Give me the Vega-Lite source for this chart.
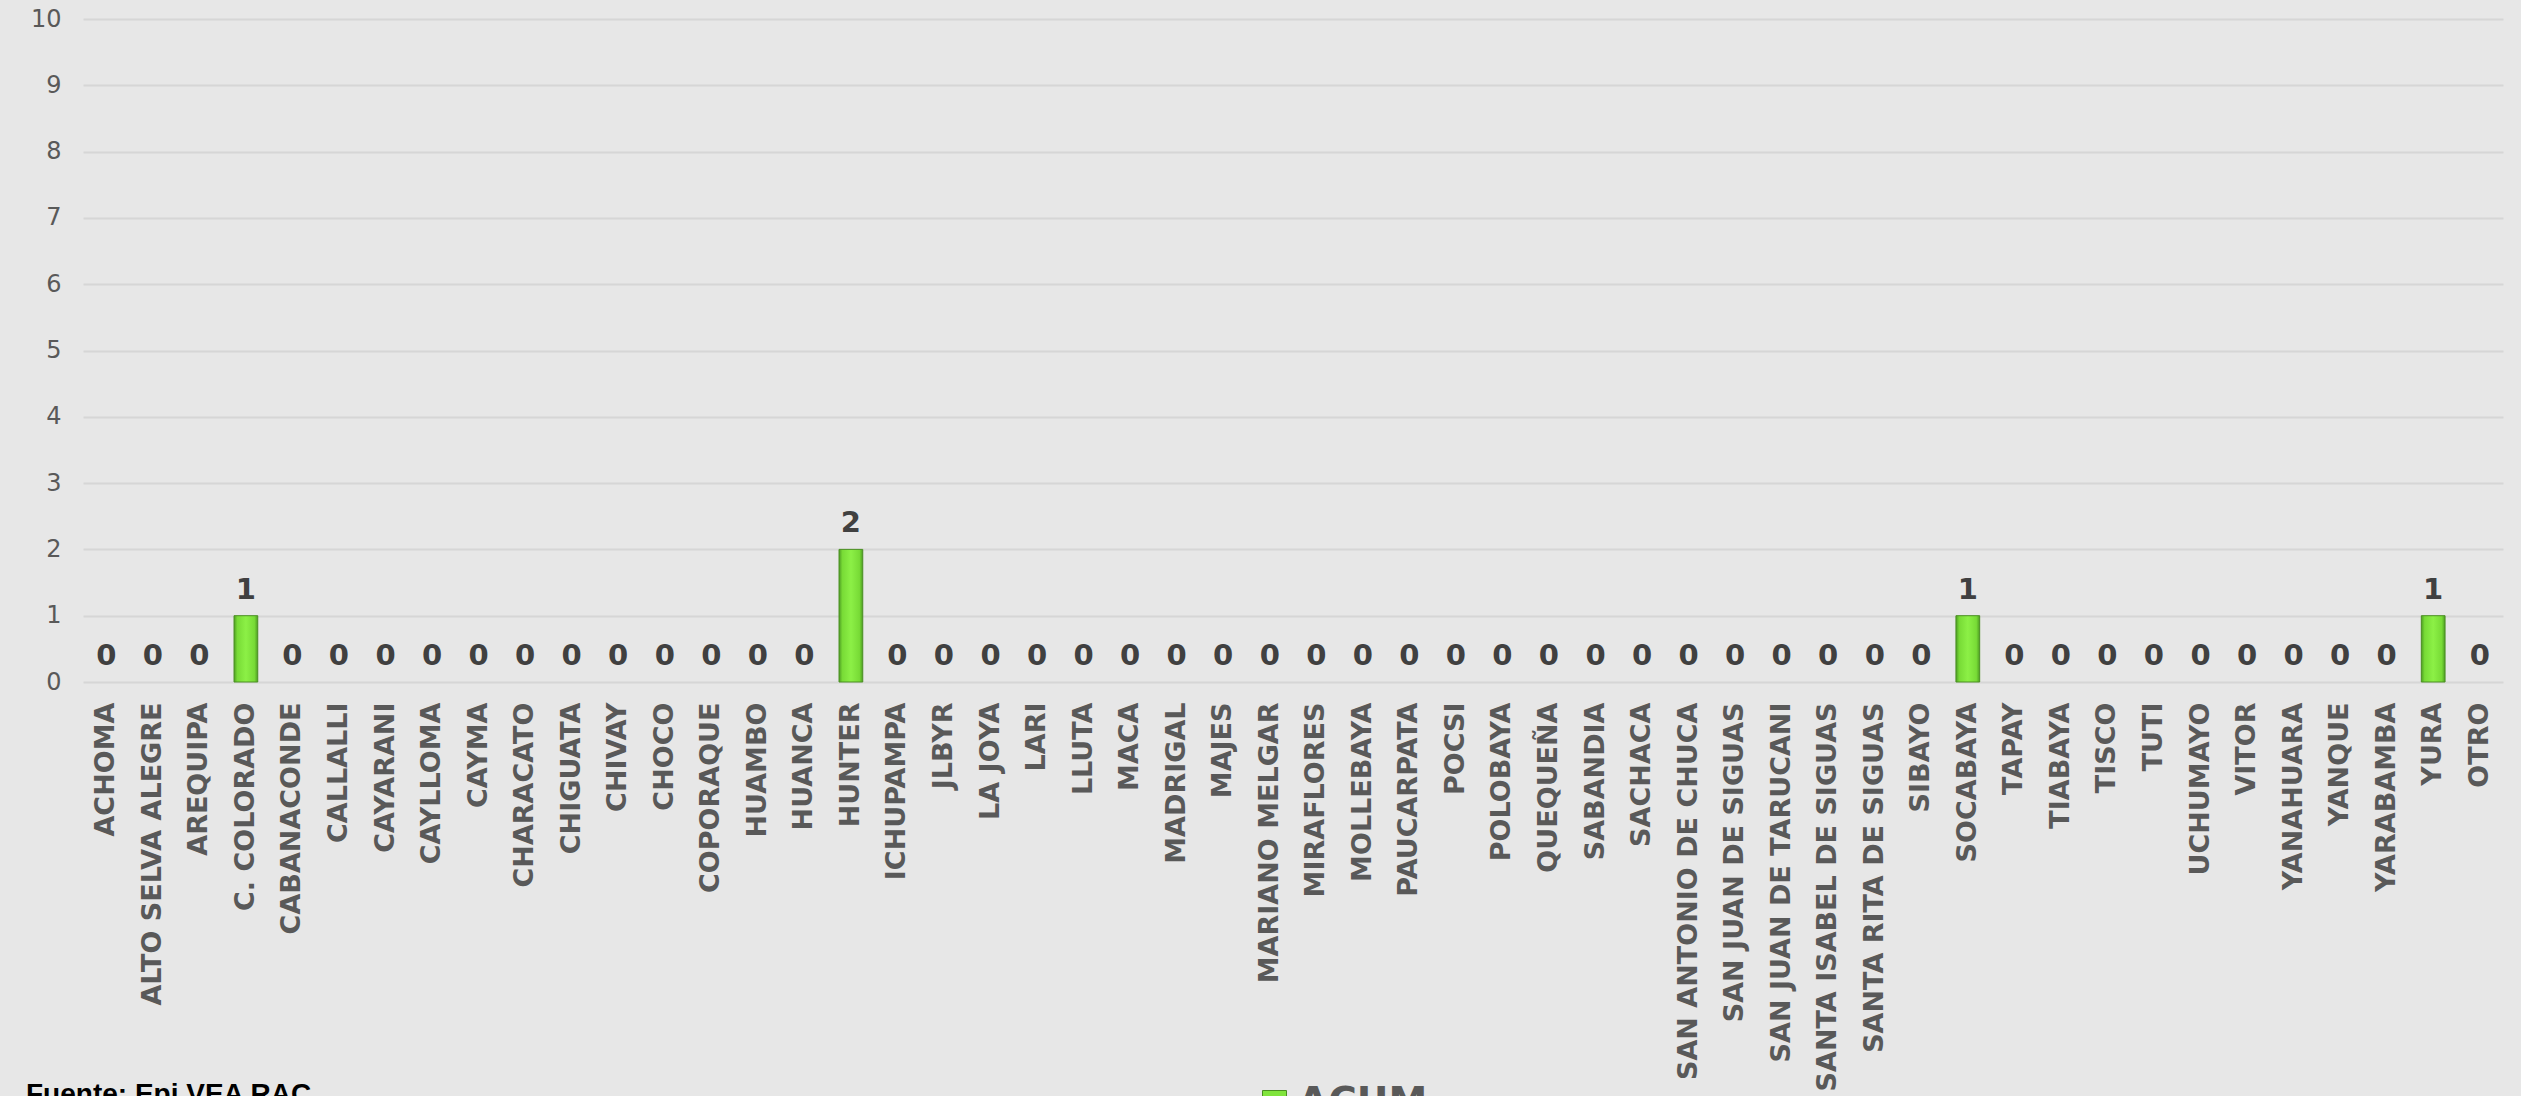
{
  "$schema": "https://vega.github.io/schema/vega-lite/v6.json",
  "width": 2420,
  "height": 663,
  "autosize": {"type": "none"},
  "padding": {"left": 83, "top": 19, "right": 18, "bottom": 414},
  "background": "#E7E7E7",
  "config": {
    "view": {"stroke": null},
    "font": "DejaVu Sans"
  },
  "title": {
    "text": "Fuente: Epi VEA RAC",
    "orient": "bottom",
    "anchor": "start",
    "frame": "group",
    "font": "Liberation Sans",
    "fontSize": 28,
    "fontWeight": "bold",
    "color": "#000000",
    "dx": -57,
    "offset": -42
  },
  "data": {
    "values": [
      {"distrito": "ACHOMA", "casos": 0},
      {"distrito": "ALTO SELVA ALEGRE", "casos": 0},
      {"distrito": "AREQUIPA", "casos": 0},
      {"distrito": "C. COLORADO", "casos": 1},
      {"distrito": "CABANACONDE", "casos": 0},
      {"distrito": "CALLALLI", "casos": 0},
      {"distrito": "CAYARANI", "casos": 0},
      {"distrito": "CAYLLOMA", "casos": 0},
      {"distrito": "CAYMA", "casos": 0},
      {"distrito": "CHARACATO", "casos": 0},
      {"distrito": "CHIGUATA", "casos": 0},
      {"distrito": "CHIVAY", "casos": 0},
      {"distrito": "CHOCO", "casos": 0},
      {"distrito": "COCACHACRA", "casos": null},
      {"distrito": "COPORAQUE", "casos": 0},
      {"distrito": "HUAMBO", "casos": 0},
      {"distrito": "HUANCA", "casos": 0},
      {"distrito": "HUNTER", "casos": 2},
      {"distrito": "ICHUPAMPA", "casos": 0},
      {"distrito": "JLBYR", "casos": 0},
      {"distrito": "LA JOYA", "casos": 0},
      {"distrito": "LARI", "casos": 0},
      {"distrito": "LLUTA", "casos": 0},
      {"distrito": "MACA", "casos": 0},
      {"distrito": "MADRIGAL", "casos": 0},
      {"distrito": "MAJES", "casos": 0},
      {"distrito": "MARIANO MELGAR", "casos": 0},
      {"distrito": "MIRAFLORES", "casos": 0},
      {"distrito": "MOLLEBAYA", "casos": 0},
      {"distrito": "PAUCARPATA", "casos": 0},
      {"distrito": "POCSI", "casos": 0},
      {"distrito": "POLOBAYA", "casos": 0},
      {"distrito": "QUEQUEÑA", "casos": 0},
      {"distrito": "SABANDIA", "casos": 0},
      {"distrito": "SACHACA", "casos": 0},
      {"distrito": "SAN ANTONIO DE CHUCA", "casos": 0},
      {"distrito": "SAN JUAN DE SIGUAS", "casos": 0},
      {"distrito": "SAN JUAN DE TARUCANI", "casos": 0},
      {"distrito": "SANTA ISABEL DE SIGUAS", "casos": 0},
      {"distrito": "SANTA RITA DE SIGUAS", "casos": 0},
      {"distrito": "SIBAYO", "casos": 0},
      {"distrito": "SOCABAYA", "casos": 1},
      {"distrito": "TAPAY", "casos": 0},
      {"distrito": "TIABAYA", "casos": 0},
      {"distrito": "TISCO", "casos": 0},
      {"distrito": "TUTI", "casos": 0},
      {"distrito": "UCHUMAYO", "casos": 0},
      {"distrito": "VITOR", "casos": 0},
      {"distrito": "YANAHUARA", "casos": 0},
      {"distrito": "YANQUE", "casos": 0},
      {"distrito": "YARABAMBA", "casos": 0},
      {"distrito": "YURA", "casos": 1},
      {"distrito": "OTRO", "casos": 0}
    ]
  },
  "encoding": {
    "x": {
      "field": "distrito",
      "type": "nominal",
      "sort": null,
      "scale": {"paddingInner": 0.49, "paddingOuter": 0.245},
      "axis": {
        "title": null,
        "labelAngle": -90,
        "labelFont": "DejaVu Sans",
        "labelFontSize": 27,
        "labelFontWeight": "bold",
        "labelColor": "#595959",
        "labelPadding": 20,
        "labelLimit": 0,
        "labelOverlap": false,
        "domain": false,
        "ticks": false,
        "grid": false
      }
    },
    "y": {
      "field": "casos",
      "type": "quantitative",
      "scale": {"domain": [0, 10], "nice": false},
      "axis": {
        "title": null,
        "values": [0, 1, 2, 3, 4, 5, 6, 7, 8, 9, 10],
        "labelFont": "DejaVu Sans",
        "labelFontSize": 24,
        "labelColor": "#595959",
        "labelPadding": 22,
        "domain": false,
        "ticks": false,
        "grid": true,
        "gridColor": "#D6D6D6",
        "gridWidth": 2
      }
    }
  },
  "layer": [
    {
      "mark": {
        "type": "bar",
        "fill": {
          "gradient": "linear",
          "x1": 0, "x2": 1, "y1": 0, "y2": 0,
          "stops": [
            {"offset": 0, "color": "#4E9E22"},
            {"offset": 0.14, "color": "#78DB36"},
            {"offset": 0.5, "color": "#8CF046"},
            {"offset": 0.86, "color": "#78DB36"},
            {"offset": 1, "color": "#4E9E22"}
          ]
        },
        "stroke": "#4A8F22",
        "strokeWidth": 1
      },
      "encoding": {
        "opacity": {
          "condition": {"test": "datum.casos > 0", "value": 1},
          "value": 0
        }
      }
    },
    {
      "mark": {
        "type": "text",
        "baseline": "alphabetic",
        "dy": -17,
        "font": "DejaVu Sans",
        "fontSize": 29,
        "fontWeight": "bold",
        "color": "#404040"
      },
      "encoding": {
        "text": {"field": "casos", "type": "quantitative"}
      }
    },
    {
      "mark": {"type": "square", "opacity": 0},
      "encoding": {
        "x": null,
        "y": null,
        "color": {
          "datum": "ACUM",
          "type": "nominal",
          "scale": {"range": ["#80E43C"]},
          "legend": {
            "title": null,
            "orient": "none",
            "legendX": 1172,
            "legendY": 1064,
            "padding": 0,
            "symbolType": "square",
            "symbolSize": 576,
            "symbolOpacity": 1,
            "symbolStrokeColor": "#4A8F22",
            "symbolStrokeWidth": 1,
            "labelFont": "DejaVu Sans",
            "labelFontSize": 39,
            "labelFontWeight": "bold",
            "labelColor": "#595959",
            "labelOffset": 4
          }
        }
      }
    }
  ]
}
